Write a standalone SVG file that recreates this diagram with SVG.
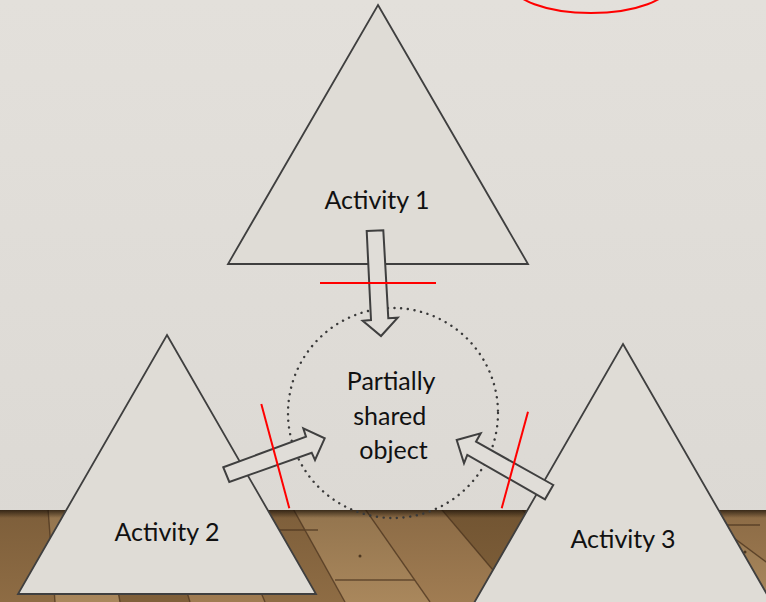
<svg xmlns="http://www.w3.org/2000/svg" width="766" height="602" viewBox="0 0 766 602">
  <defs>
    <style>
      .tri { fill: #dfdcd6; stroke: #3f3f3f; stroke-width: 1.8; stroke-linejoin: miter; }
      .arrow { fill: #e0ddd8; stroke: #3f3f3f; stroke-width: 2; stroke-linejoin: miter; }
      .cut { stroke: #ff0000; stroke-width: 2; fill: none; }
      .label { font-family: Lato, "Open Sans", "Liberation Sans", sans-serif; font-size: 25px; fill: #111; text-anchor: middle; }
      .plank-a { fill: #8e6c44; }
      .plank-b { fill: #a07c52; }
      .plank-c { fill: #80603a; }
      .plank-d { fill: #a9875c; }
      .seam { stroke: #4e3620; stroke-width: 1.4; opacity: 0.75; }
    </style>
    <clipPath id="floorClip">
      <rect x="0" y="510" width="766" height="92"/>
    </clipPath>
    <linearGradient id="wallShade" x1="0" y1="0" x2="0" y2="1">
      <stop offset="0" stop-color="#e3e0db"/>
      <stop offset="1" stop-color="#dbd8d3"/>
    </linearGradient>
    <linearGradient id="floorShadow" x1="0" y1="0" x2="0" y2="1">
      <stop offset="0" stop-color="#1e140a" stop-opacity="0.85"/>
      <stop offset="1" stop-color="#1e140a" stop-opacity="0"/>
    </linearGradient>
    <linearGradient id="floorTone" x1="0" y1="0" x2="0" y2="1">
      <stop offset="0" stop-color="#3a2814" stop-opacity="0.2"/>
      <stop offset="1" stop-color="#3a2814" stop-opacity="0"/>
    </linearGradient>
  </defs>

  <!-- wall -->
  <rect x="0" y="0" width="766" height="602" fill="url(#wallShade)"/>

  <!-- wooden floor: planks converge toward a vanishing point at top-left -->
  <g id="floor" clip-path="url(#floorClip)">
    <rect x="0" y="510" width="766" height="92" fill="#906e47"/>
    <polygon class="plank-b" points="10,0 -60,602 -5,602"/>
    <polygon class="plank-a" points="10,0 -5,602 55,602"/>
    <polygon class="plank-d" points="10,0 55,602 120,602"/>
    <polygon class="plank-c" points="10,0 120,602 190,602"/>
    <polygon class="plank-b" points="10,0 190,602 265,602"/>
    <polygon class="plank-a" points="10,0 265,602 345,602"/>
    <polygon class="plank-d" points="10,0 345,602 430,602"/>
    <polygon class="plank-b" points="10,0 430,602 520,602"/>
    <polygon class="plank-c" points="10,0 520,602 615,602"/>
    <polygon class="plank-a" points="10,0 615,602 715,602"/>
    <polygon class="plank-d" points="10,0 715,602 820,602"/>
    <polygon class="plank-b" points="10,0 820,602 935,602"/>
    <polygon class="plank-a" points="10,0 935,602 1060,602"/>
    <g class="seam">
      <line x1="10" y1="0" x2="-5" y2="602"/>
      <line x1="10" y1="0" x2="55" y2="602"/>
      <line x1="10" y1="0" x2="120" y2="602"/>
      <line x1="10" y1="0" x2="190" y2="602"/>
      <line x1="10" y1="0" x2="265" y2="602"/>
      <line x1="10" y1="0" x2="345" y2="602"/>
      <line x1="10" y1="0" x2="430" y2="602"/>
      <line x1="10" y1="0" x2="520" y2="602"/>
      <line x1="10" y1="0" x2="615" y2="602"/>
      <line x1="10" y1="0" x2="715" y2="602"/>
      <line x1="10" y1="0" x2="820" y2="602"/>
      <line x1="10" y1="0" x2="935" y2="602"/>
      <!-- plank end joints -->
      <line x1="58" y1="548" x2="110" y2="548"/>
      <line x1="250" y1="530" x2="318" y2="530"/>
      <line x1="335" y1="580" x2="415" y2="580"/>
      <line x1="560" y1="560" x2="650" y2="560"/>
      <line x1="680" y1="525" x2="760" y2="525"/>
    </g>
    <g fill="#3b2815" opacity="0.8">
      <circle cx="28" cy="582" r="1.5"/>
      <circle cx="95" cy="590" r="1.5"/>
      <circle cx="360" cy="556" r="1.5"/>
      <circle cx="497" cy="570" r="1.5"/>
      <circle cx="745" cy="552" r="1.5"/>
    </g>
    <rect x="0" y="510" width="766" height="92" fill="url(#floorTone)"/>
    <rect x="0" y="509" width="766" height="9" fill="url(#floorShadow)"/>
  </g>

  <!-- red outline partly above the top edge -->
  <g id="marker-top">
    <ellipse cx="591" cy="-17" rx="80" ry="30" class="cut" stroke-width="2.5"/>
  </g>

  <!-- activity systems -->
  <g id="activity1">
    <polygon class="tri" points="378,5 528,264 228,264"/>
    <text class="label" x="377" y="209">Activity 1</text>
  </g>
  <g id="activity2">
    <polygon class="tri" points="167,335 316,594 18,594"/>
    <text class="label" x="167" y="541">Activity 2</text>
  </g>
  <g id="activity3">
    <polygon class="tri" points="623,344 772,603 474,603"/>
    <text class="label" x="623" y="548">Activity 3</text>
  </g>

  <!-- shared object -->
  <g id="shared-object">
    <circle cx="393" cy="413" r="105" fill="none" stroke="#3a3a3a" stroke-width="2.4" stroke-dasharray="0.1 6.6" stroke-linecap="round"/>
    <text class="label">
      <tspan x="394" y="390">Partially</tspan>
      <tspan x="393" y="424.5">shared</tspan>
      <tspan x="393.5" y="459">object</tspan>
    </text>
  </g>

  <!-- connectors -->
  <g id="connectors">
    <polygon class="arrow" points="366.7,231 383.3,230.3 388.3,318.3 397.7,317.7 381,336 362.7,320.7 371,320"/>
    <polygon class="arrow" points="223.3,467.3 306,436.7 303.3,428.3 324.7,438.3 315,460 311.7,452.7 229.3,482"/>
    <polygon class="arrow" points="553.3,485 476,441.7 480.7,433.3 456.7,440 464,463.3 467.3,455 545,499.3"/>
  </g>

  <!-- boundary crossings -->
  <g id="boundaries">
    <line class="cut" x1="320" y1="283" x2="436" y2="283"/>
    <line class="cut" x1="261.3" y1="404" x2="289.3" y2="508.3"/>
    <line class="cut" x1="528" y1="411.7" x2="501.7" y2="508.3"/>
  </g>
</svg>
